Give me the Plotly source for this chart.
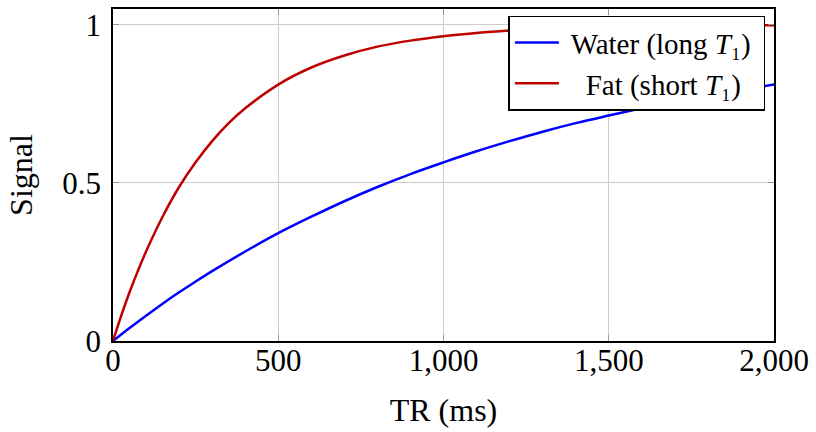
import plotly.graph_objects as go

# Repetition time (ms) and longitudinal recovery read at each sample
tr_water = [0, 50, 100, 150, 200, 250, 300, 400, 500, 600, 700, 800, 900, 1000,
            1100, 1200, 1300, 1400, 1500, 1600, 1700, 1800, 1900, 2000]
signal_water = [0, 0.041, 0.080, 0.118, 0.154, 0.188, 0.221, 0.283, 0.341, 0.393,
                0.442, 0.487, 0.528, 0.565, 0.600, 0.632, 0.662, 0.689, 0.713,
                0.736, 0.757, 0.777, 0.794, 0.811]

tr_fat = [0, 25, 50, 75, 100, 150, 200, 250, 300, 350, 400, 500, 600, 700, 800,
          900, 1000, 1100, 1200, 1400, 1600, 1800, 2000]
signal_fat = [0, 0.080, 0.154, 0.221, 0.283, 0.393, 0.487, 0.565, 0.632, 0.689,
              0.736, 0.811, 0.865, 0.903, 0.931, 0.950, 0.964, 0.974, 0.982,
              0.991, 0.995, 0.998, 0.999]

x_ticks = [0, 500, 1000, 1500, 2000]
y_ticks = [0, 0.5, 1]
y_tick_text = ["0", "0.5", "1"]

FONT = "Liberation Serif"

fig = go.Figure()
fig.add_trace(go.Scatter(
    x=tr_water, y=signal_water, mode="lines", line_shape="spline",
    name=" Water (long <i>T</i>₁) ",
    line=dict(color="#0000ff", width=2.5),
))
fig.add_trace(go.Scatter(
    x=tr_fat, y=signal_fat, mode="lines", line_shape="spline",
    name="   Fat (short <i>T</i>₁)",
    line=dict(color="#bf0000", width=2.5),
))

axis_common = dict(
    showgrid=True, gridcolor="#cccccc", gridwidth=1,
    showline=True, linecolor="black", linewidth=1.5, mirror="ticks",
    ticks="inside", ticklen=6, tickcolor="#999999", tickwidth=1,
    zeroline=False,
    tickfont=dict(family=FONT, size=31, color="black"),
)

fig.update_xaxes(
    range=[0, 2000], tickvals=x_ticks, tickformat=",", ticklabelstandoff=-9,
    title=dict(text="TR (ms)", font=dict(family=FONT, size=32, color="black"), standoff=22),
    **axis_common,
)
fig.update_yaxes(
    range=[0, 1.05], tickvals=y_ticks, ticktext=y_tick_text, ticklabelstandoff=4,
    title=dict(text="Signal", font=dict(family=FONT, size=32, color="black"), standoff=20),
    **axis_common,
)

fig.update_layout(
    width=816, height=432,
    margin=dict(l=113, r=36, t=7, b=91),
    plot_bgcolor="white", paper_bgcolor="white",
    font=dict(family=FONT, size=31, color="black"),
    showlegend=True,
    legend=dict(
        x=0.987, y=0.98, xanchor="right", yanchor="top",
        bgcolor="white", bordercolor="black", borderwidth=1.5,
        font=dict(family=FONT, size=29, color="black"),
        itemwidth=44, tracegroupgap=0,
    ),
)

fig.write_html("out.html")
